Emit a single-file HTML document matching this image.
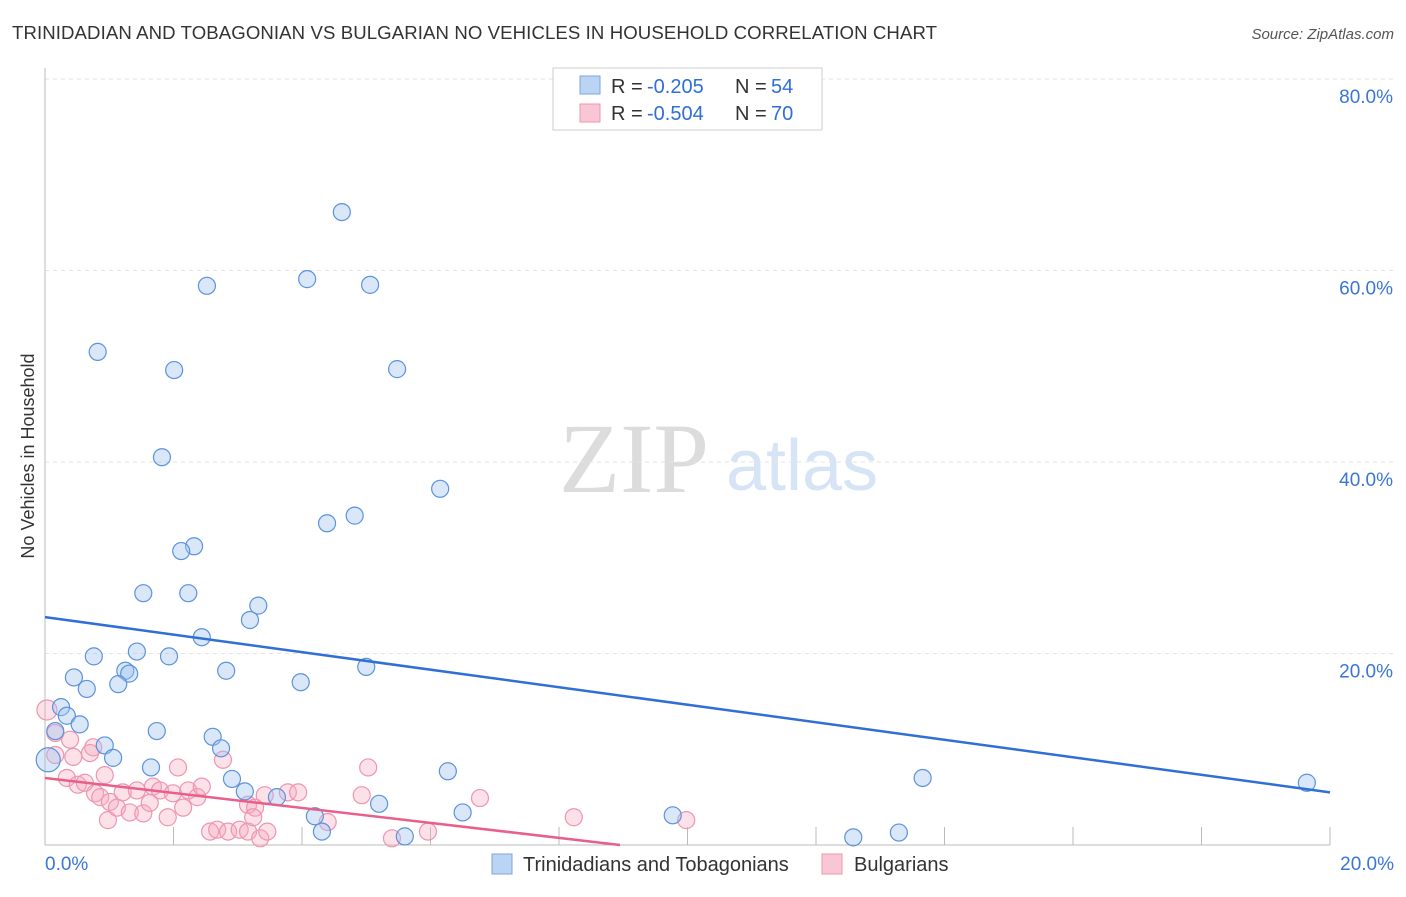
<!DOCTYPE html>
<html><head><meta charset="utf-8"><style>
body{margin:0;background:#fff;font-family:"Liberation Sans",sans-serif;}
</style></head><body>
<svg id="c" width="1406" height="892" xmlns="http://www.w3.org/2000/svg" font-family="Liberation Sans, sans-serif">
<text x="12" y="39" font-size="18.6" fill="#333" textLength="925">TRINIDADIAN AND TOBAGONIAN VS BULGARIAN NO VEHICLES IN HOUSEHOLD CORRELATION CHART</text>
<text x="1394" y="39" font-size="15" fill="#555" font-style="italic" text-anchor="end">Source: ZipAtlas.com</text>
<text x="634" y="492" font-size="100" fill="#dcdcdc" style="font-family:'Liberation Serif',serif" text-anchor="middle">ZIP</text>
<text x="802" y="490" font-size="72" fill="#d6e4f5" text-anchor="middle">atlas</text>
<text transform="translate(34,456) rotate(-90)" font-size="18" fill="#333" text-anchor="middle">No Vehicles in Household</text>
<g id="grid"></g><g id="pts"></g><g id="lines"></g>
<g>
<rect x="553" y="68" width="269" height="62" fill="#fff" stroke="#ccc"/>
<rect x="580" y="76" width="20" height="18" fill="#bcd4f4" stroke="#7aa6e0"/>
<rect x="580" y="104" width="20" height="18" fill="#f9c6d5" stroke="#ee95b0"/>
<text x="611" y="93" font-size="20" fill="#333">R =</text><text x="647" y="93" font-size="20" fill="#2f6fd6">-0.205</text>
<text x="735" y="93" font-size="20" fill="#333">N =</text><text x="771" y="93" font-size="20" fill="#2f6fd6">54</text>
<text x="611" y="120" font-size="20" fill="#333">R =</text><text x="647" y="120" font-size="20" fill="#2f6fd6">-0.504</text>
<text x="735" y="120" font-size="20" fill="#333">N =</text><text x="771" y="120" font-size="20" fill="#2f6fd6">70</text>
</g>
<g>
<rect x="492" y="854" width="20" height="20" fill="#bcd4f4" stroke="#7aa6e0"/>
<text x="523" y="871" font-size="20" fill="#333">Trinidadians and Tobagonians</text>
<rect x="822" y="854" width="20" height="20" fill="#f9c6d5" stroke="#ee95b0"/>
<text x="854" y="871" font-size="20" fill="#333">Bulgarians</text>
</g>
</svg>
<script>
const yTicks=[20,40,60,80];
const yTickLabels=["20.0%","40.0%","60.0%","80.0%"];
const xTickLabels=["0.0%","20.0%"];
const blueX=[4.62,2.52,4.08,5.06,0.82,2.01,5.48,1.82,6.15,4.82,4.39,2.32,2.12,1.53,2.23,3.32,3.19,2.44,1.43,0.76,1.93,1.25,1.31,2.82,5.0,0.45,0.65,1.14,3.98,0.25,0.34,0.54,0.16,1.74,0.93,2.61,2.74,1.06,1.65,2.91,6.27,13.66,19.64,3.11,3.61,5.2,4.2,6.5,9.77,4.31,5.6,12.58,13.29,0.05];
const blueY=[66.1,58.4,59.1,58.5,51.5,49.6,49.7,40.5,37.2,34.4,33.6,31.2,30.7,26.3,26.3,25.0,23.5,21.7,20.2,19.7,19.7,18.2,17.9,18.2,18.6,17.5,16.3,16.8,17.0,14.4,13.5,12.6,11.9,11.9,10.4,11.3,10.1,9.1,8.1,6.9,7.7,7.0,6.5,5.6,5.0,4.3,3.0,3.4,3.1,1.4,0.9,0.8,1.3,8.9];
const pinkX=[0.03,0.16,0.39,0.75,0.16,0.44,0.70,0.93,0.34,0.51,0.62,0.78,0.98,0.86,1.01,1.12,1.21,1.32,1.43,1.53,1.63,1.68,1.79,1.91,1.99,2.15,2.23,2.37,2.44,2.07,2.57,2.68,2.85,3.03,3.16,3.35,3.46,2.77,3.16,3.27,3.24,3.42,3.78,3.94,4.40,4.93,5.03,5.40,5.96,6.77,8.23,9.98];
const pinkY=[14.1,11.7,11.0,10.2,9.4,9.2,9.6,7.3,7.0,6.3,6.5,5.4,2.6,5.0,4.5,3.9,5.5,3.4,5.7,3.3,4.4,6.1,5.7,2.9,5.4,3.9,5.7,5.0,6.1,8.1,1.4,1.6,1.4,1.6,1.4,0.7,1.4,8.9,4.2,3.9,2.9,5.2,5.5,5.5,2.4,5.2,8.1,0.7,1.4,4.9,2.9,2.6];
const blueTrend=[23.8,5.5];
const pinkTrend=[7.0,0];
const pinkTrendEndX=8.95;
const NS="http://www.w3.org/2000/svg";
const xs=v=>45+v/20*1285, ys=v=>845-v/20*191.5;
function mk(t,a,p){const e=document.createElementNS(NS,t);for(const k in a)e.setAttribute(k,a[k]);p.appendChild(e);return e;}
const grid=document.getElementById('grid');
yTicks.forEach((t,i)=>{
 const l=mk('line',{x1:45,x2:1394,y1:ys(t),y2:ys(t),stroke:'#e3e3e3','stroke-dasharray':'4,4'},grid);
 
 
 const tx=mk('text',{x:1393,y:ys(t)+24,'font-size':19,fill:'#3a76d6','text-anchor':'end'},grid);tx.textContent=yTickLabels[i];
 
 
});
mk('line',{x1:45,x2:45,y1:68,y2:845,stroke:'#bbb'},grid);
mk('line',{x1:45,x2:1330,y1:845,y2:845,stroke:'#bbb'},grid);
for(let i=1;i<=10;i++){mk('line',{x1:xs(i*2),x2:xs(i*2),y1:827,y2:845,stroke:'#bbb'},grid);}
[[0,'start',45],[20,'end',1394]].forEach((d,i)=>{const t=mk('text',{x:d[2],y:870,'font-size':19,fill:'#3a76d6','text-anchor':d[1]},grid);t.textContent=xTickLabels[i];
 
 });
const pts=document.getElementById('pts');
pinkX.forEach((x,i)=>{const c=mk('circle',{cx:xs(x),cy:ys(pinkY[i]),r:i==0?10:8.5,fill:'rgba(246,168,192,0.35)',stroke:'#ee95b0','stroke-width':1.2},pts);
 
 });
blueX.forEach((x,i)=>{const c=mk('circle',{cx:xs(x),cy:ys(blueY[i]),r:i==blueX.length-1?12:8.5,fill:'rgba(160,196,240,0.4)',stroke:'#5b93dc','stroke-width':1.2},pts);
 
 });
const lines=document.getElementById('lines');
const bl=mk('line',{x1:xs(0),y1:ys(blueTrend[0]),x2:xs(20),y2:ys(blueTrend[1]),stroke:'#2f6fd6','stroke-width':2.5},lines);


const pl=mk('line',{x1:xs(0),y1:ys(pinkTrend[0]),x2:xs(pinkTrendEndX),y2:ys(pinkTrend[1]),stroke:'#e8608a','stroke-width':2.5},lines);


</script>
</body></html>
